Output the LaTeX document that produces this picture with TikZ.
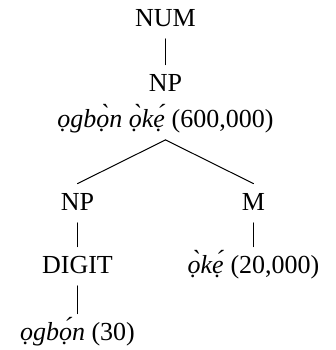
\documentclass[tikz,border=0pt]{standalone}
\usepackage{fontspec}
\setmainfont{Liberation Serif}
\usepackage{tikz}
\tikzset{
  cat/.style={anchor=base, inner sep=0pt, text height=13pt, text depth=6.25pt,
    font=\fontsize{13}{15}\selectfont},
  branch/.style={draw=black, line width=0.5pt, line cap=round}
}

\begin{document}
\begin{tikzpicture}[x=0.5pt,y=-0.5pt]
  \useasboundingbox (0,0) rectangle (336,350);
  \node[cat] (num) at (165.5,26) {NUM};
  \node[cat] (np) at (165.5,91) {NP};
  \node[cat] (npgl) at (165.5,127) {\textit{ọgbọ̀n ọ̀kẹ́} (600,000)};
  \node[cat] (npl) at (77.5,210) {NP};
  \node[cat] (m) at (253.5,210) {M};
  \node[cat] (digit) at (77.5,273) {DIGIT};
  \node[cat] (mgl) at (253.5,273) {\textit{ọ̀kẹ́} (20,000)};
  \node[cat] (dgl) at (77.5,340) {\textit{ọgbọ́n} (30)};
  \draw[branch] (num) -- (np);
  \draw[branch] (npgl.south) -- (npl.north);
  \draw[branch] (npgl.south) -- (m.north);
  \draw[branch] (npl) -- (digit);
  \draw[branch] (m) -- (mgl);
  \draw[branch] (digit) -- (dgl);
\end{tikzpicture}
\end{document}
